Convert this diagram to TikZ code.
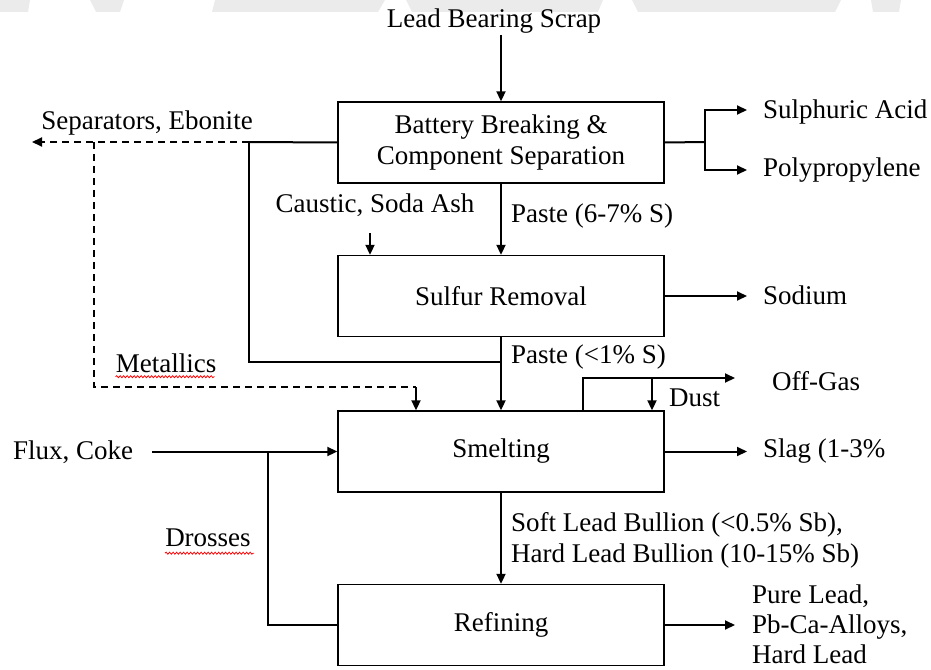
\documentclass[tikz,border=0pt]{standalone}
\usepackage{fontspec}
\setmainfont{Liberation Serif}
\usetikzlibrary{arrows.meta,decorations.pathmorphing}
\begin{document}
\begin{tikzpicture}[x=1pt,y=-1pt,
  every node/.style={font=\fontsize{27}{31}\selectfont, inner sep=0pt},
  box/.style={draw, line width=1.4pt, minimum width=326pt, align=center},
  line/.style={line width=2pt},
  arr/.style={line width=2pt, -{Triangle[length=10pt,width=9pt]}},
  dsh/.style={line width=2pt, dash pattern=on 7pt off 5pt},
  wavy/.style={red, line width=0.8pt, decorate, decoration={snake, amplitude=1pt, segment length=3.5pt}},
  lbl/.style={anchor=west, align=left}]
\useasboundingbox (0,0) rectangle (931,669);
% faint watermark at top
\fill[black!8] (0,0) -- (30,0) -- (28,12) -- (0,12) -- cycle;
\fill[black!8] (90,0) -- (124,0) -- (120,12) -- (96,12) -- cycle;
\fill[black!8] (215,0) -- (385,0) -- (378,12) -- (212,12) -- cycle;
\fill[black!8] (406,0) -- (603,0) -- (598,12) -- (412,12) -- cycle;
\fill[black!8] (632,0) -- (841,0) -- (835,12) -- (638,12) -- cycle;
\fill[black!8] (871,0) -- (901,0) -- (899,12) -- (873,12) -- cycle;

% boxes
\node[box, minimum height=81pt] (bb) at (501,142.5) {Battery Breaking \&\\Component Separation};
\node[box, minimum height=81pt] (sr) at (501,296) {Sulfur Removal};
\node[box, minimum height=81pt] (sm) at (501,451.5) {Smelting};
\node[box, minimum height=81pt] (rf) at (501,625) {Refining};

% texts
\node (scrap) at (494,21) {Lead Bearing Scrap};
\node (sep) at (147,123) {Separators, Ebonite};
\node (caustic) at (375,205) {Caustic, Soda Ash};
\node[lbl] (paste1) at (511,216) {Paste (6-7\% S)};
\node[lbl] (paste2) at (511,357) {Paste (<1\% S)};
\node[lbl] (acid) at (763,112) {Sulphuric Acid};
\node[lbl] (pp) at (763,170) {Polypropylene};
\node[lbl] (na) at (763,295) {Sodium};
\node[lbl] (offgas) at (772,381) {Off-Gas};
\node[lbl] (dust) at (669,398) {Dust};
\node (metal) at (166,363) {Metallics};
\node[lbl] (flux) at (13,452) {Flux, Coke};
\node (dross) at (208,538) {Drosses};
\node[lbl] (slag) at (763,451) {Slag (1-3\%};
\node[lbl] (bullion) at (511,540) {Soft Lead Bullion (<0.5\% Sb),\\Hard Lead Bullion (10-15\% Sb)};
\node[lbl, font=\fontsize{27}{30}\selectfont] (prod) at (752,624) {Pure Lead,\\Pb-Ca-Alloys,\\Hard Lead};

% spell-check underlines
\draw[wavy] (metal.south west) ++(0,4) -- ++(99,0);
\draw[wavy] (dross.south west) ++(0,6) -- ++(89,0);

% coordinates
\coordinate (scrapend) at (501,35);
\coordinate (sepj) at (249,142);
\coordinate (sepend) at (32,142);
\coordinate (dj) at (94,142);
\coordinate (dcorner) at (94,387);
\coordinate (dend) at (416,387);
\coordinate (pj) at (501,362);
\coordinate (cstart) at (370,233);
\coordinate (rj) at (705,142);
\coordinate (acidend) at (747,110);
\coordinate (ppend) at (747,170);
\coordinate (naend) at (747,296);
\coordinate (ogstart) at (583,411);
\coordinate (ogend) at (735,378);
\coordinate (dustst) at (652,378);
\coordinate (fluxst) at (152,451.5);
\coordinate (fj) at (268,451.5);
\coordinate (slagend) at (747,451.5);
\coordinate (prodend) at (735,625);

% connectors
\draw[arr] (scrapend) -- (bb.north);
\draw[line] (bb.west) -- (sepj);
\draw[dsh, -{Triangle[length=10pt,width=9pt]}] (sepj) -- (sepend);
\draw[dsh] (dj) -- (dcorner) -- (dend);
\draw[arr] (dend) -- (dend |- sm.north);
\draw[line] (sepj) |- (pj);
\draw[arr] (bb.south) -- (sr.north);
\draw[arr] (cstart) -- (cstart |- sr.north);
\draw[arr] (sr.south) -- (sm.north);
\draw[line] (bb.east) -- (rj);
\draw[arr] (rj) |- (acidend);
\draw[arr] (rj) |- (ppend);
\draw[arr] (sr.east) -- (naend);
\draw[arr] (ogstart) |- (ogend);
\draw[arr] (dustst) -- (dustst |- sm.north);
\draw[arr] (fluxst) -- (sm.west);
\draw[line] (fj) |- (rf.west);
\draw[arr] (sm.east) -- (slagend);
\draw[arr] (sm.south) -- (rf.north);
\draw[arr] (rf.east) -- (prodend);
\end{tikzpicture}
\end{document}
